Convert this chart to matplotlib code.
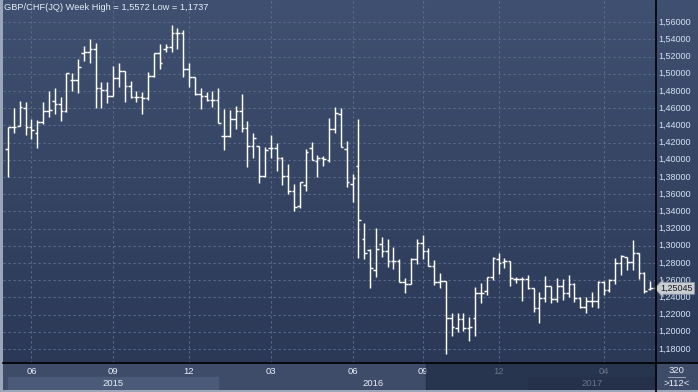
import matplotlib
matplotlib.use('Agg')
import matplotlib.pyplot as plt
import numpy as np

# weekly GBP/CHF bars
opens = [1.4125, 1.4377, 1.4392, 1.4602, 1.4377, 1.4315, 1.4443, 1.4571, 1.4687, 1.4648,
         1.4571, 1.4927, 1.4927, 1.5237, 1.5249, 1.5284, 1.4838, 1.4811, 1.4741, 1.4947,
         1.5032, 1.4861, 1.4734, 1.4726, 1.4714, 1.4978, 1.5237, 1.5290, 1.5315, 1.5470,
         1.5470, 1.5051, 1.4958, 1.4765, 1.4741, 1.4695, 1.4695, 1.4280, 1.4280, 1.4474,
         1.4571, 1.4365, 1.4164, 1.4160, 1.3815, 1.4133, 1.4133, 1.4020, 1.3815, 1.3633,
         1.3466, 1.3706, 1.4133, 1.3989, 1.4024, 1.3997, 1.4358, 1.4528, 1.4121, 1.3718,
         1.3927, 1.3078, 1.2951, 1.2718, 1.3016, 1.2939, 1.2827, 1.2827, 1.2582, 1.2555,
         1.2846, 1.3028, 1.2939, 1.2770, 1.2582, 1.2590, 1.2156, 1.2040, 1.2148, 1.2048,
         1.2156, 1.2447, 1.2478, 1.2633, 1.2842, 1.2815, 1.2823, 1.2613, 1.2613, 1.2613,
         1.2505, 1.2272, 1.2389, 1.2532, 1.2381, 1.2532, 1.2447, 1.2555, 1.2389, 1.2284,
         1.2361, 1.2361, 1.2582, 1.2485, 1.2602, 1.2796, 1.2865, 1.2815, 1.2912, 1.2679,
         1.2493]
highs = [1.4385, 1.4598, 1.4683, 1.4675, 1.4470, 1.4462, 1.4675, 1.4799, 1.4830, 1.4726,
         1.5013, 1.5005, 1.5168, 1.5323, 1.5400, 1.5361, 1.4908, 1.4904, 1.5094, 1.5121,
         1.5036, 1.4920, 1.4799, 1.4784, 1.5024, 1.5245, 1.5346, 1.5346, 1.5572, 1.5528,
         1.5509, 1.5121, 1.4960, 1.4838, 1.4792, 1.4803, 1.4830, 1.4586, 1.4578, 1.4630,
         1.4765, 1.4451, 1.4307, 1.4160, 1.4144, 1.4288, 1.4199, 1.4028, 1.3951, 1.3718,
         1.3745, 1.4125, 1.4203, 1.4055, 1.4048, 1.4482, 1.4609, 1.4598, 1.4218, 1.3834,
         1.4474, 1.3268, 1.2958, 1.3202, 1.3098, 1.3075, 1.2989, 1.2842, 1.2629, 1.2854,
         1.3078, 1.3125, 1.2970, 1.2834, 1.2679, 1.2590, 1.2214, 1.2214, 1.2214, 1.2175,
         1.2516, 1.2571, 1.2641, 1.2865, 1.2920, 1.2854, 1.2827, 1.2633, 1.2633, 1.2660,
         1.2505, 1.2466, 1.2648, 1.2532, 1.2621, 1.2610, 1.2660, 1.2563, 1.2400, 1.2408,
         1.2458, 1.2590, 1.2590, 1.2613, 1.2854, 1.2892, 1.2873, 1.3067, 1.2920, 1.2699,
         1.2590]
lows = [1.3803, 1.4315, 1.4392, 1.4288, 1.4241, 1.4133, 1.4412, 1.4493, 1.4532, 1.4454,
        1.4559, 1.4803, 1.4780, 1.5152, 1.5121, 1.4598, 1.4598, 1.4656, 1.4741, 1.4850,
        1.4675, 1.4714, 1.4675, 1.4528, 1.4695, 1.4966, 1.5051, 1.5257, 1.5257, 1.5284,
        1.4958, 1.4850, 1.4753, 1.4586, 1.4683, 1.4609, 1.4423, 1.4113, 1.4269, 1.4354,
        1.4327, 1.3920, 1.4024, 1.3726, 1.3796, 1.4017, 1.3873, 1.3710, 1.3602, 1.3408,
        1.3435, 1.3641, 1.3997, 1.3803, 1.3931, 1.3978, 1.4307, 1.4144, 1.3687, 1.3513,
        1.2854, 1.2842, 1.2505, 1.2640, 1.2873, 1.2757, 1.2726, 1.2582, 1.2447, 1.2555,
        1.2788, 1.2846, 1.2760, 1.2544, 1.2505, 1.1737, 1.1951, 1.2001, 1.2013, 1.1896,
        1.1951, 1.2330, 1.2427, 1.2602, 1.2672, 1.2737, 1.2532, 1.2571, 1.2361, 1.2493,
        1.2234, 1.2106, 1.2350, 1.2338, 1.2350, 1.2369, 1.2400, 1.2350, 1.2272, 1.2214,
        1.2292, 1.2272, 1.2427, 1.2466, 1.2552, 1.2660, 1.2718, 1.2718, 1.2610, 1.2447,
        1.2485]
closes = [1.4377, 1.4377, 1.4609, 1.4377, 1.4346, 1.4443, 1.4571, 1.4578, 1.4648, 1.4571,
          1.5005, 1.4927, 1.5075, 1.5249, 1.5284, 1.4838, 1.4811, 1.4741, 1.4947, 1.5032,
          1.4861, 1.4734, 1.4726, 1.4714, 1.4978, 1.5237, 1.5129, 1.5315, 1.5470, 1.5470,
          1.5051, 1.4958, 1.4765, 1.4741, 1.4695, 1.4695, 1.4423, 1.4280, 1.4474, 1.4571,
          1.4365, 1.4164, 1.4249, 1.3815, 1.4113, 1.4133, 1.4020, 1.3815, 1.3633, 1.3447,
          1.3737, 1.4090, 1.3997, 1.4024, 1.4005, 1.4358, 1.4540, 1.4152, 1.3745, 1.3784,
          1.3299, 1.2912, 1.2737, 1.2958, 1.2939, 1.2827, 1.2827, 1.2582, 1.2555, 1.2846,
          1.3028, 1.2939, 1.2770, 1.2582, 1.2594, 1.2156, 1.2059, 1.2148, 1.2048, 1.2059,
          1.2447, 1.2454, 1.2633, 1.2854, 1.2796, 1.2827, 1.2621, 1.2613, 1.2613, 1.2505,
          1.2272, 1.2389, 1.2532, 1.2381, 1.2532, 1.2447, 1.2555, 1.2389, 1.2284, 1.2361,
          1.2361, 1.2582, 1.2485, 1.2602, 1.2796, 1.2881, 1.2815, 1.2912, 1.2679, 1.2478,
          1.25045]

month_ticks = [4, 18, 31, 45, 59, 71, 84, 102]
month_labels = ['06', '09', '12', '03', '06', '09', '12', '04']
year_labels = ['2015', '2016', '2017']
year_centers = [18, 62.5, 100]
title = 'GBP/CHF(JQ) Week High = 1,5572 Low = 1,1737'
last_price = 1.25045

W, H = 698, 392
XMIN, XMAX = -0.86, 110.8
YMIN, YMAX = 1.1637, 1.5858
FONT = 'Liberation Sans'


def px_rect(x0, y0, x1, y1):
    return [x0 / W, 1 - y1 / H, (x1 - x0) / W, (y1 - y0) / H]


def gradient(ax, top, bottom):
    c1 = np.array(matplotlib.colors.to_rgb(top))
    c2 = np.array(matplotlib.colors.to_rgb(bottom))
    t = np.linspace(0, 1, 256)[:, None]
    img = (c1 * (1 - t) + c2 * t)[:, None, :]
    ax.imshow(img, extent=[0, 1, 0, 1], transform=ax.transAxes,
              aspect='auto', zorder=0, interpolation='bilinear')


fig = plt.figure(figsize=(W / 100, H / 100), dpi=100)
fig.patch.set_facecolor('#9ba7b9')

# main price panel
ax = fig.add_axes(px_rect(3, 0, 655, 363))
gradient(ax, '#405070', '#2b3957')
ax.set_xlim(XMIN, XMAX)
ax.set_ylim(YMIN, YMAX)
for s in ax.spines.values():
    s.set_visible(False)
ax.set_xticks([])
ax.set_yticks([])

grid_kw = dict(color='#5b6b89', lw=0.8, dashes=(2, 2.5), zorder=1)
levels = np.arange(1.18, 1.5601, 0.02)
for lv in levels:
    ax.axhline(lv, **grid_kw)
for t in month_ticks:
    ax.axvline(t, **grid_kw)

x = np.arange(len(closes))
ax.vlines(x, lows, highs, color='white', lw=1.05, zorder=3)
ax.hlines(opens, x - 0.45, x, color='white', lw=1.05, zorder=3)
ax.hlines(closes, x, x + 0.45, color='white', lw=1.05, zorder=3)

ax.text(0.002, 0.978, title, transform=ax.transAxes, ha='left', va='center',
        fontsize=6.7, color='#e6ecf6', family=FONT, zorder=5)

# right price scale
axr = fig.add_axes(px_rect(655, 0, 698, 363))
gradient(axr, '#405070', '#2b3957')
axr.set_xlim(0, 1)
axr.set_ylim(YMIN, YMAX)
axr.set_xticks([])
axr.set_yticks([])
for s in axr.spines.values():
    s.set_visible(False)
for lv in levels:
    axr.text(0.08, lv, f'{lv:.5f}'.replace('.', ','), ha='left', va='center',
             fontsize=6.5, color='#d5e1f4', family=FONT, zorder=2)
axr.text(0.13, last_price, f'{last_price:.5f}'.replace('.', ','), ha='left',
         va='center', fontsize=6.5, color='#1a1a1a', family=FONT, zorder=6,
         bbox=dict(boxstyle='larrow,pad=0.15', fc='#c9cdd4', ec='#8f96a0', lw=0.6))

# bottom time axis
axb = fig.add_axes(px_rect(3, 363, 655, 390))
axb.set_facecolor('#3e4c69')
axb.set_xlim(XMIN, XMAX)
axb.set_ylim(0, 1)
axb.set_xticks([])
axb.set_yticks([])
for s in axb.spines.values():
    s.set_visible(False)
axb.axvspan(0, 36, ymin=0, ymax=0.48, color='#4b5a78', zorder=1)
axb.axvspan(89, XMAX, ymin=0, ymax=0.48, color='#34425f', zorder=1)
for t, lab in zip(month_ticks, month_labels):
    axb.text(t, 0.67, lab, ha='center', va='center', fontsize=6.8,
             color='#e8eef8', family=FONT, zorder=2)
for c, lab in zip(year_centers, year_labels):
    axb.text(c, 0.25, lab, ha='center', va='center', fontsize=6.8,
             color='#e8eef8', family=FONT, zorder=2)
axb.axvspan(71.6, XMAX, color='#1c2740', alpha=0.62, zorder=3)

# bottom-right info box
axc = fig.add_axes(px_rect(655, 363, 698, 390))
axc.set_facecolor('#3e4c69')
axc.set_xlim(0, 1)
axc.set_ylim(0, 1)
axc.set_xticks([])
axc.set_yticks([])
for s in axc.spines.values():
    s.set_visible(False)
axc.text(0.5, 0.72, '320', ha='center', va='center', fontsize=6.8,
         color='#e8eef8', family=FONT)
axc.plot([0.3, 0.7], [0.5, 0.5], color='#c0c8d6', lw=0.5)
axc.text(0.5, 0.25, '>112<', ha='center', va='center', fontsize=6.8,
         color='#e8eef8', family=FONT)

# separator lines
fig.add_artist(plt.Line2D([655.5 / W, 655.5 / W], [0, 1], color='black', lw=1.2))
fig.add_artist(plt.Line2D([3 / W, 1], [1 - 363 / H, 1 - 363 / H], color='black', lw=1.2))

fig.savefig('out.png', dpi=100, facecolor=fig.get_facecolor())
